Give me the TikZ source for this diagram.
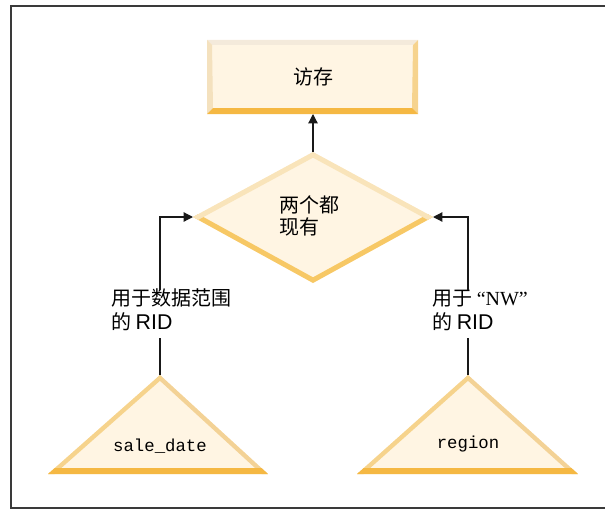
\documentclass[tikz,border=0pt]{standalone}
\usepackage{fontspec}
\setmainfont{Liberation Serif}
\setsansfont{Liberation Sans}
\setmonofont{Liberation Mono}
\newfontfamily\cjk{Noto Sans CJK SC}
\usetikzlibrary{arrows.meta}
\definecolor{shapefill}{HTML}{FFF5E3}
\definecolor{bevtop}{HTML}{F4EADB}
\definecolor{bevleft}{HTML}{F4E1BE}
\definecolor{bevright}{HTML}{F6D38E}
\definecolor{bevbot}{HTML}{F5B843}
\definecolor{dialight}{HTML}{F9E4BA}
\definecolor{diadark}{HTML}{F7C865}
\definecolor{trileft}{HTML}{F6D38C}
\definecolor{triright}{HTML}{F3D296}
\definecolor{frame}{HTML}{3A3A3A}
\begin{document}
\begin{tikzpicture}[x=0.75pt,y=-0.75pt,
  conn/.style={draw=black!90, line width=0.9pt},
  arr/.style={conn,-{Triangle[length=7pt,width=7pt]}},
  lbl/.style={font=\cjk\fontsize{15}{18}\selectfont, align=left, inner sep=0pt},
  dlbl/.style={font=\cjk\fontsize{15}{16.5}\selectfont, align=left, inner sep=0pt},
  rid/.style={font=\sffamily\fontsize{16}{18}\selectfont},
  mono/.style={font=\ttfamily\fontsize{13}{15}\selectfont, inner sep=0pt}]
\useasboundingbox (0,0) rectangle (605,510);
\clip (0,0) rectangle (605,510);
\draw[line width=1.5pt, draw=frame] (11,6) rectangle (640,508);

% ---- top box ----
\coordinate (btl) at (207,40);
\coordinate (bbr) at (418,114);
\coordinate (bbot) at (313,114);
\fill[shapefill] (btl) rectangle (bbr);
\fill[bevtop] (207,40) -- (418,40) -- (413,45) -- (212,45) -- cycle;
\fill[bevleft] (207,40) -- (212,45) -- (213,108) -- (207,114) -- cycle;
\fill[bevright] (418,40) -- (413,45) -- (412,108) -- (418,114) -- cycle;
\fill[bevbot] (207,114) -- (418,114) -- (412,108) -- (213,108) -- cycle;
\node[lbl] (acc) at (313,77) {访存};

% ---- diamond ----
\coordinate (dtop) at (313,152);
\coordinate (dleft) at (193,217);
\coordinate (dright) at (433,217);
\coordinate (dbot) at (313,283);
\fill[shapefill] (dtop) -- (dright) -- (dbot) -- (dleft) -- cycle;
\begin{scope}
  \clip (dtop) -- (dright) -- (dbot) -- (dleft) -- cycle;
  \draw[line width=7.5pt, draw=diadark, line cap=round] (dleft) -- (dbot) -- (dright);
  \draw[line width=7.5pt, draw=dialight] (dleft) -- (dtop) -- (dright);
\end{scope}
\node[dlbl, anchor=west] (both) at (279,216) {两个都\\现有};

% ---- triangles ----
\coordinate (lapex) at (160,375);
\coordinate (lbl1) at (48,474);
\coordinate (lbr1) at (268,474);
\fill[shapefill] (lapex) -- (lbr1) -- (lbl1) -- cycle;
\begin{scope}
  \clip (lapex) -- (lbr1) -- (lbl1) -- cycle;
  \draw[line width=6.5pt, draw=triright] (lapex) -- (lbr1);
  \draw[line width=6.5pt, draw=trileft] (lapex) -- (lbl1);
  \draw[line width=9pt, draw=bevbot] (lbl1) -- (lbr1);
\end{scope}
\node[mono] (sd) at (160,446) {sale\_date};

\coordinate (rapex) at (468,375);
\coordinate (rbl1) at (357,474);
\coordinate (rbr1) at (578,474);
\fill[shapefill] (rapex) -- (rbr1) -- (rbl1) -- cycle;
\begin{scope}
  \clip (rapex) -- (rbr1) -- (rbl1) -- cycle;
  \draw[line width=6.5pt, draw=triright] (rapex) -- (rbr1);
  \draw[line width=6.5pt, draw=trileft] (rapex) -- (rbl1);
  \draw[line width=9pt, draw=bevbot] (rbl1) -- (rbr1);
\end{scope}
\node[mono] (rg) at (468,444) {region};

% ---- labels ----
\node[lbl, anchor=west] (llab) at (111,310) {用于数据范围\\的 {\sffamily\fontsize{16}{18}\selectfont RID}};
\node[lbl, anchor=west] (rlab) at (432,310) {用于 {\rmfamily “NW”}\\的 {\sffamily\fontsize{16}{18}\selectfont RID}};

\coordinate (lgapt) at (160,290);
\coordinate (lgapb) at (160,338);
\coordinate (rgapt) at (468,290);
\coordinate (rgapb) at (468,338);

% ---- connectors ----
\draw[arr] (dtop) -- (bbot);
\draw[conn] (lapex) -- (lgapb);
\draw[arr] (lgapt) |- (dleft);
\draw[conn] (rapex) -- (rgapb);
\draw[arr] (rgapt) |- (dright);
\end{tikzpicture}
\end{document}
